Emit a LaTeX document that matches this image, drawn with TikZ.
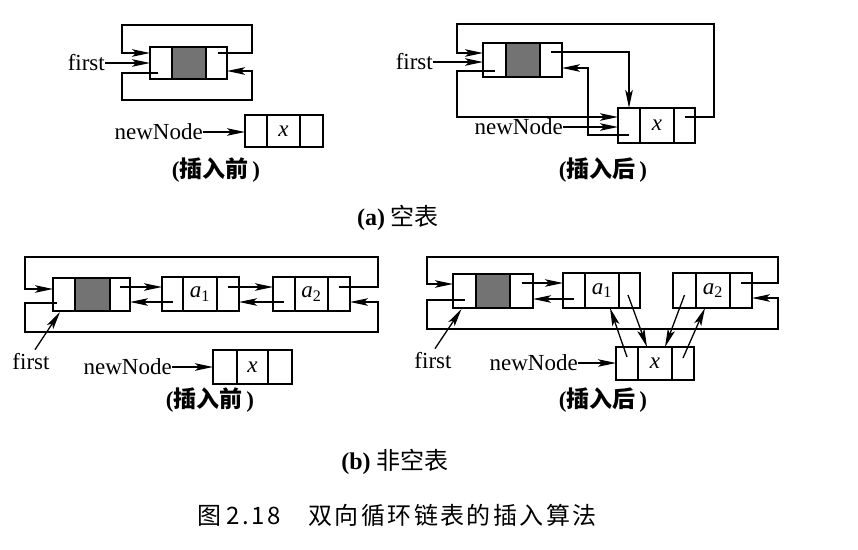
\documentclass[tikz,border=0pt]{standalone}
\usepackage{fontspec}
\setmainfont{Liberation Serif}
\newfontfamily\cjk{Noto Sans CJK SC}
\newfontfamily\cjkcap[LetterSpace=10]{Noto Sans CJK SC}
\usetikzlibrary{arrows.meta,calc}

\tikzset{
  cellbox/.style={draw, line width=1.4pt, inner sep=0pt, outer sep=0pt, font=\fontsize{23}{26}\selectfont},
  datacell/.style={cellbox, fill=black!55},
  link/.style={line width=1.3pt, -{Stealth[length=18pt,width=7.5pt,inset=4pt]}},
  lbl/.style={font=\fontsize{23}{26}\selectfont, inner sep=0pt},
  sublbl/.style={font=\fontsize{23}{26}\selectfont\bfseries, inner sep=0pt},
  caplbl/.style={font=\fontsize{24}{28}\selectfont, inner sep=0pt},
}

% name, x1, x2, x3, x4, ytop, ybottom, middle style, middle content
\newcommand\dlnode[9]{%
  \node[cellbox, minimum width={(#3)-(#2)}, minimum height={(#7)-(#6)}] (#1l) at ({((#2)+(#3))/2},{((#6)+(#7))/2}) {};
  \node[#8, minimum width={(#4)-(#3)}, minimum height={(#7)-(#6)}] (#1d) at ({((#3)+(#4))/2},{((#6)+(#7))/2}) {#9};
  \node[cellbox, minimum width={(#5)-(#4)}, minimum height={(#7)-(#6)}] (#1r) at ({((#4)+(#5))/2},{((#6)+(#7))/2}) {};
}

\begin{document}
\begin{tikzpicture}[x=1pt,y=-1pt]
\useasboundingbox (0,0) rectangle (858,549);

% ================= (a) left: before =================
\dlnode{ah}{150}{172}{206}{227}{47}{79}{datacell}{}
\dlnode{an}{245}{267}{300}{323}{115}{147}{cellbox}{\textit{x}}
\coordinate (aTR) at (252,25);
\coordinate (aTL) at (122,25);
\coordinate (aBL) at (122,100);
\coordinate (aBR) at (252,100);
\draw[link] ($(ahr.center)+(1,-10)$) -| (aTR) -- (aTL) |- ($(ahl.west)+(0,-10)$);
\draw[link] ($(ahl.center)+(-3,10)$) -| (aBL) -- (aBR) |- ($(ahr.east)+(0,8)$);
\node[lbl, anchor=east] (afirst) at (105,63) {first};
\draw[link] (afirst.east) -- (afirst.east -| ahl.west);
\node[lbl, anchor=east] (anew) at (203,132) {newNode};
\draw[link] (anew.east) -- (anew.east -| anl.west);
\node[sublbl] (alab) at (216,170) {({\cjk 插入前}\,)};

% ================= (a) right: after =================
\dlnode{bh}{483}{506}{540}{562}{43}{77}{datacell}{}
\dlnode{bn}{618}{640}{674}{695}{108}{143}{cellbox}{\textit{x}}
\coordinate (bTR) at (714,24);
\coordinate (bTL) at (457,24);
\coordinate (bBL) at (457,117);
\coordinate (bMid) at (588,100);
\draw[link] ($(bnr.center)+(0,-8.5)$) -| (bTR) -- (bTL) |- ($(bhl.west)+(0,-7)$);
\node[lbl, anchor=east] (bfirst) at (433,62) {first};
\draw[link] (bfirst.east) -- (bfirst.east -| bhl.west);
\draw[link] ($(bhl.center)+(0,11)$) -| (bBL) -- (bBL -| bnl.west);
\draw[link] ($(bhr.center)+(0,-8)$) -| (bnl.north);
\draw[link] ($(bnl.center)+(0,9.5)$) -| (bMid) |- ($(bhr.east)+(0,8)$);
\node[lbl, anchor=east] (bnew) at (563,127) {newNode};
\draw[link] (bnew.east) -- (bnew.east -| bnl.west);
\node[sublbl] (blab) at (603,170) {({\cjk 插入后}\,)};

\node[caplbl] (acap) at (398,218) {\textbf{(a)} {\cjk 空表}};

% ================= (b) left: before =================
\dlnode{ch}{53}{75}{110}{130}{278}{311}{datacell}{}
\dlnode{ca}{162}{183}{217}{239}{277}{311}{cellbox}{\textit{a}\textsubscript{1}}
\dlnode{cb}{273}{295}{328}{350}{277}{311}{cellbox}{\textit{a}\textsubscript{2}}
\dlnode{cn}{213}{237}{268}{292}{350}{384}{cellbox}{\textit{x}}
\coordinate (cTR) at (378,257);
\coordinate (cTL) at (25,257);
\coordinate (cBL) at (25,332);
\coordinate (cBR) at (378,332);
\draw[link] ($(cbr.center)+(0,-7)$) -| (cTR) -- (cTL) |- ($(chl.west)+(0,-5.5)$);
\draw[link] ($(chr.center)+(0,-7.5)$) -- ($(cal.west)+(0,-7)$);
\draw[link] ($(cal.center)+(0,8)$) -- ($(chr.east)+(0,7.5)$);
\draw[link] ($(car.center)+(0,-7)$) -- ($(cbl.west)+(0,-7)$);
\draw[link] ($(cbl.center)+(0,8)$) -- ($(car.east)+(0,8)$);
\draw[link] ($(chl.center)+(-7,8.5)$) -| (cBL) -- (cBR) |- ($(cbr.east)+(0,8)$);
\node[lbl] (cfirst) at (31,362) {first};
\draw[link] ($(cfirst.north)+(4,-4)$) -- ($(chl.south)+(-4,1)$);
\node[lbl, anchor=east] (cnew) at (172,367) {newNode};
\draw[link] (cnew.east) -- (cnew.east -| cnl.west);
\node[sublbl] (clab) at (210,400) {({\cjk 插入前}\,)};

% ================= (b) right: after =================
\dlnode{dh}{453}{476}{510}{533}{274}{308}{datacell}{}
\dlnode{da}{563}{585}{619}{640}{273}{308}{cellbox}{\textit{a}\textsubscript{1}}
\dlnode{db}{673}{696}{730}{752}{273}{308}{cellbox}{\textit{a}\textsubscript{2}}
\dlnode{dn}{616}{638}{672}{694}{347}{380}{cellbox}{\textit{x}}
\coordinate (dTR) at (778,257);
\coordinate (dTL) at (427,257);
\coordinate (dBL) at (427,329);
\coordinate (dBR) at (778,329);
\draw[link] ($(dbr.center)+(0,-7.5)$) -| (dTR) -- (dTL) |- ($(dhl.west)+(0,-7)$);
\draw[link] ($(dhr.center)+(0,-8)$) -- ($(dal.west)+(0,-7.5)$);
\draw[link] ($(dal.center)+(0,8.5)$) -- ($(dhr.east)+(0,8)$);
\draw[link] ($(dhl.center)+(0,9)$) -| (dBL) -- (dBR) |- ($(dbr.east)+(0,7.5)$);
\draw[link] ($(dar.center)+(-1.5,4.5)$) -- ($(dnd.north)+(-8,0)$);
\draw[link] ($(dnl.center)+(0,-6.5)$) -- ($(dad.south)+(8,0)$);
\draw[link] ($(dbl.center)+(0,4.5)$) -- ($(dnd.north)+(10,0)$);
\draw[link] ($(dnr.center)+(0,-5.5)$) -- ($(dbd.south)+(-8,0)$);
\node[lbl] (dfirst) at (433,361) {first};
\draw[link] ($(dfirst.north)+(2,-4)$) -- ($(dhl.south)+(-3,1)$);
\node[lbl, anchor=east] (dnew) at (578,363) {newNode};
\draw[link] (dnew.east) -- (dnew.east -| dnl.west);
\node[sublbl] (dlab) at (603,400) {({\cjk 插入后}\,)};

\node[caplbl] (bcap) at (395,462) {\textbf{(b)} {\cjk 非空表}};

\node[caplbl, font=\cjkcap\fontsize{24}{28}\selectfont] (title) at (397,515) {图\hspace{5pt}2.18\hspace{28pt}双向循环链表的插入算法};
\end{tikzpicture}
\end{document}
